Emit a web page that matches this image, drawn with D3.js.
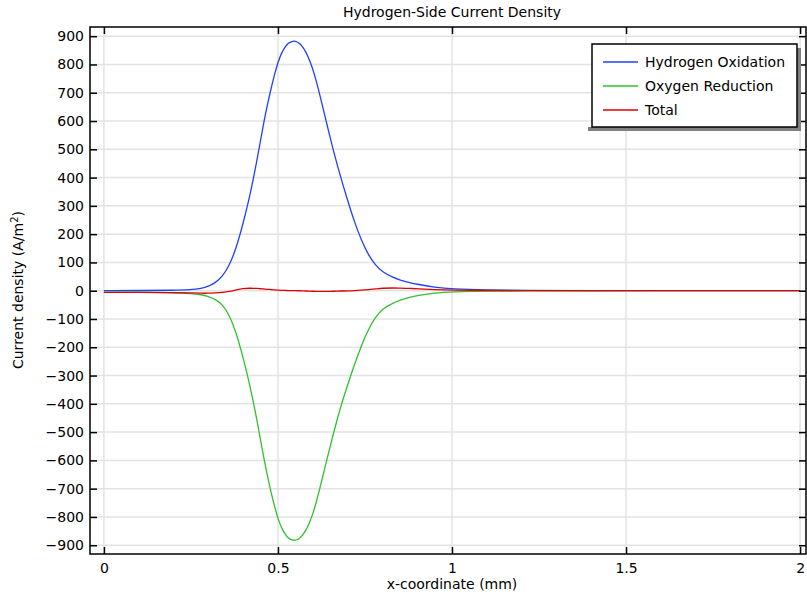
<!DOCTYPE html>
<html>
<head>
<meta charset="utf-8">
<script src="https://cdn.jsdelivr.net/npm/d3@7"></script>
<style>
  body { margin: 0; background: #fff; }
  svg { display: block; font-family: "DejaVu Sans", sans-serif; }
</style>
</head>
<body>
<svg width="807" height="596"></svg>
<script>
// x positions (mm) shared by all three curves
const xs = [0, 0.1, 0.2, 0.25, 0.28, 0.3, 0.32, 0.34, 0.36, 0.38,
  0.4, 0.42, 0.43, 0.44, 0.45, 0.46, 0.47, 0.48, 0.49, 0.5,
  0.51, 0.52, 0.53, 0.54, 0.55, 0.56, 0.57, 0.58, 0.59, 0.6,
  0.61, 0.62, 0.63, 0.64, 0.65, 0.66, 0.67, 0.68, 0.69, 0.7,
  0.72, 0.74, 0.76, 0.78, 0.8, 0.83, 0.85, 0.88, 0.9, 0.95,
  1.0, 1.1, 1.2, 1.4, 1.6, 1.8, 2.0];

const hydrogen = [0.5, 0.5, 1.5, 3, 8, 15, 28, 50, 88, 150,
  238, 340, 400, 463, 532, 600, 660, 714, 764, 808,
  840, 862, 876, 882, 883, 877, 864, 845, 818, 785,
  742, 694, 643, 592, 541, 492, 446, 403, 361, 320,
  242, 177, 126, 90, 66, 47, 38, 28, 23, 12,
  6, 2, 1, 0.3, 0, 0, 0];

const oxygen = [-5, -5, -7, -10, -14, -20, -30, -48, -85, -148,
  -236, -338, -398, -460, -528, -596, -657, -712, -762, -806,
  -838, -860, -876, -882, -883, -878, -866, -848, -822, -790,
  -748, -700, -650, -600, -550, -502, -456, -412, -372, -334,
  -260, -193, -136, -93, -64, -44, -34, -22, -17, -8,
  -4, -1.5, -0.5, 0, 0, 0, 0];

const total = [-6, -6, -7, -8, -9, -9, -8, -6, -3, 3,
  8, 9, 8.5, 8, 7, 6, 5, 4, 3, 2,
  1.5, 1, 0.5, 0, 0, 0, -0.5, -1, -1.5, -2,
  -2, -2, -2, -2, -2, -2, -1.5, -1, -1, -1,
  0, 2, 4, 6, 9, 10, 9, 8, 7, 4,
  2, 0.5, 0, 0, 0, 0, 0];

const xTicks = [0, 0.5, 1, 1.5, 2];
const yTicks = d3.range(-900, 901, 100);

const seriesNames = ["Hydrogen Oxidation", "Oxygen Reduction", "Total"];
const seriesColors = ["#2040ff", "#30c030", "#e00000"];
const seriesValues = [hydrogen, oxygen, total];

const svg = d3.select("svg");
const pLeft = 90, pRight = 806, pTop = 27, pBottom = 554;

const x = d3.scaleLinear().domain([-0.04, 2.017]).range([pLeft, pRight]);
const y = d3.scaleLinear().domain([-931, 932.5]).range([pBottom, pTop]);

// grid
svg.append("g").selectAll("line").data(xTicks).join("line")
  .attr("x1", d => x(d)).attr("x2", d => x(d)).attr("y1", pTop).attr("y2", pBottom)
  .attr("stroke", "#e3e3e3").attr("stroke-width", 1.5);
svg.append("g").selectAll("line").data(yTicks).join("line")
  .attr("x1", pLeft).attr("x2", pRight).attr("y1", d => y(d)).attr("y2", d => y(d))
  .attr("stroke", "#e3e3e3").attr("stroke-width", 1.5);

// curves
const line = d3.line().curve(d3.curveBasis)
  .x((d, i) => x(xs[i])).y(d => y(d));
seriesValues.forEach((vals, k) => {
  svg.append("path").datum(vals)
    .attr("fill", "none")
    .attr("stroke", seriesColors[k])
    .attr("stroke-width", 1.3)
    .attr("d", line);
});

// axes, ticks pointing inward
const axisStyle = g => {
  g.select(".domain").remove();
  g.selectAll(".tick line").attr("stroke", "#000").attr("stroke-width", 1.5);
  g.selectAll(".tick text").attr("fill", "#000").style("font-size", "14px")
    .style("font-family", "DejaVu Sans, sans-serif");
};
svg.append("g").attr("transform", `translate(0,${pBottom})`)
  .call(d3.axisBottom(x).tickValues(xTicks).tickFormat(d3.format("")).tickSizeInner(-7).tickPadding(9))
  .call(axisStyle);
svg.append("g").attr("transform", `translate(0,${pTop})`)
  .call(d3.axisTop(x).tickValues(xTicks).tickSizeInner(-7).tickFormat(""))
  .call(axisStyle);
svg.append("g").attr("transform", `translate(${pLeft},0)`)
  .call(d3.axisLeft(y).tickValues(yTicks).tickSizeInner(-7).tickPadding(6).tickFormat(d3.format("")))
  .call(axisStyle);
svg.append("g").attr("transform", `translate(${pRight},0)`)
  .call(d3.axisRight(y).tickValues(yTicks).tickSizeInner(-7).tickFormat(""))
  .call(axisStyle);

// frame
svg.append("rect").attr("x", pLeft).attr("y", pTop)
  .attr("width", pRight - pLeft).attr("height", pBottom - pTop)
  .attr("fill", "none").attr("stroke", "#000").attr("stroke-width", 1.5);

// title and axis labels
svg.append("text").attr("x", 452).attr("y", 17).attr("text-anchor", "middle")
  .style("font-size", "14px").text("Hydrogen-Side Current Density");
svg.append("text").attr("x", 452).attr("y", 589).attr("text-anchor", "middle")
  .style("font-size", "14px").text("x-coordinate (mm)");
const yl = svg.append("text").attr("transform", "translate(23,290) rotate(-90)")
  .attr("text-anchor", "middle").style("font-size", "14px");
yl.append("tspan").text("Current density (A/m");
yl.append("tspan").attr("dy", -5).style("font-size", "10px").text("2");
yl.append("tspan").attr("dy", 5).text(")");

// legend
const lg = svg.append("g");
lg.append("rect").attr("x", 588).attr("y", 127).attr("width", 213).attr("height", 4).attr("fill", "#808080");
lg.append("rect").attr("x", 797).attr("y", 48).attr("width", 4).attr("height", 83).attr("fill", "#808080");
lg.append("rect").attr("x", 592).attr("y", 44).attr("width", 205).attr("height", 83)
  .attr("fill", "#fff").attr("stroke", "#000").attr("stroke-width", 1.5);
seriesNames.forEach((name, k) => {
  const yy = 62 + k * 24;
  lg.append("line").attr("x1", 603).attr("x2", 638).attr("y1", yy).attr("y2", yy)
    .attr("stroke", seriesColors[k]).attr("stroke-width", 1.3);
  lg.append("text").attr("x", 645).attr("y", yy + 5)
    .style("font-size", "14px").text(name);
});
</script>
</body>
</html>
